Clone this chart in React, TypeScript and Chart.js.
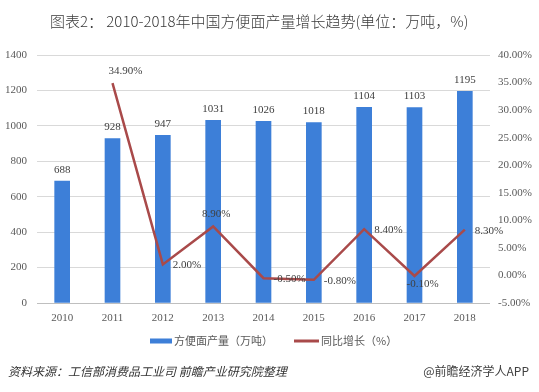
import { useEffect, useRef } from 'react';
import { Chart, registerables } from 'chart.js';

Chart.register(...registerables);

const years = ['2010', '2011', '2012', '2013', '2014', '2015', '2016', '2017', '2018'];
const production = [688, 928, 947, 1031, 1026, 1018, 1104, 1103, 1195];
const growth: (number | null)[] = [null, 34.9, 2.0, 8.9, -0.5, -0.8, 8.4, -0.1, 8.3];
const growthLabelPlacement = ['none', 'aboveRight', 'right', 'above', 'right', 'right', 'right', 'below', 'right'];
const leftTicks = { min: 0, max: 1400, step: 200 };
const rightTicks = { min: -5, max: 40, step: 5 };

const titleText = '图表2： 2010-2018年中国方便面产量增长趋势(单位：万吨，%)';
const barLegend = '方便面产量（万吨）';
const lineLegend = '同比增长（%）';
const sourceText = '资料来源：工信部消费品工业司 前瞻产业研究院整理';
const brandText = '@前瞻经济学人APP';

const CJK = '"Noto Sans CJK SC", "Noto Sans", sans-serif';
const SERIF = '"Liberation Serif", "DejaVu Serif", serif';
const BAR = '#3d7fd8';
const LINE = '#a94a4a';
const TICK = '#595959';

const decorPlugin = {
  id: 'decor',
  afterDatasetsDraw(chart: any) {
    const ctx = chart.ctx;
    ctx.save();
    ctx.font = `11px ${SERIF}`;
    ctx.fillStyle = '#404040';
    const barMeta = chart.getDatasetMeta(0);
    barMeta.data.forEach((el: any, i: number) => {
      ctx.textAlign = 'center';
      ctx.textBaseline = 'bottom';
      ctx.fillText(String(production[i]), el.x, el.y - 6);
    });
    const lineMeta = chart.getDatasetMeta(1);
    lineMeta.data.forEach((el: any, i: number) => {
      const v = growth[i];
      if (v === null || v === undefined) return;
      const txt = v.toFixed(2) + '%';
      const p = growthLabelPlacement[i];
      if (p === 'above') {
        ctx.textAlign = 'center';
        ctx.textBaseline = 'middle';
        ctx.fillText(txt, el.x + 3, el.y - 12);
      } else if (p === 'aboveRight') {
        ctx.textAlign = 'center';
        ctx.textBaseline = 'middle';
        ctx.fillText(txt, el.x + 13, el.y - 12);
      } else if (p === 'below') {
        ctx.textAlign = 'center';
        ctx.textBaseline = 'middle';
        ctx.fillText(txt, el.x + 8, el.y + 8);
      } else if (p === 'right') {
        ctx.textAlign = 'left';
        ctx.textBaseline = 'middle';
        ctx.fillText(txt, el.x + 10, el.y + 1);
      }
    });
    ctx.restore();
  },
  afterDraw(chart: any) {
    const ctx = chart.ctx;
    ctx.save();
    // title
    ctx.font = `300 15px ${CJK}`;
    ctx.fillStyle = '#3a3a3a';
    ctx.textAlign = 'left';
    ctx.textBaseline = 'middle';
    ctx.fillText(titleText, 50, 21);
    // legend
    const ly = 341;
    ctx.fillStyle = BAR;
    ctx.fillRect(150, ly - 2.5, 22, 5);
    ctx.font = `11px ${CJK}`;
    ctx.fillStyle = TICK;
    ctx.fillText(barLegend, 174, ly);
    ctx.strokeStyle = LINE;
    ctx.lineWidth = 3;
    ctx.beginPath();
    ctx.moveTo(294, ly);
    ctx.lineTo(319, ly);
    ctx.stroke();
    ctx.fillStyle = TICK;
    ctx.fillText(lineLegend, 321, ly);
    // footer
    ctx.font = `italic 12px ${CJK}`;
    ctx.fillStyle = '#333333';
    ctx.fillText(sourceText, 8, 371);
    ctx.font = `12px ${CJK}`;
    ctx.textAlign = 'right';
    ctx.fillStyle = '#404040';
    ctx.fillText(brandText, 529, 371);
    ctx.restore();
  },
};

export default function App() {
  const ref = useRef<HTMLCanvasElement>(null);
  useEffect(() => {
    document.body.style.margin = '0';
    const chart = new Chart(ref.current!, {
      type: 'bar',
      data: {
        labels: years,
        datasets: [
          {
            type: 'bar',
            label: barLegend,
            data: production,
            backgroundColor: BAR,
            yAxisID: 'y',
            barThickness: 15,
            order: 2,
          } as any,
          {
            type: 'line',
            label: lineLegend,
            data: growth,
            borderColor: LINE,
            backgroundColor: LINE,
            borderWidth: 2.5,
            pointRadius: 0,
            tension: 0,
            yAxisID: 'y1',
            order: 1,
          } as any,
        ],
      },
      options: {
        responsive: false,
        animation: false,
        devicePixelRatio: 1,
        layout: { padding: { top: 55, bottom: 61, left: 0, right: 0 } },
        plugins: {
          legend: { display: false },
          tooltip: { enabled: false },
          title: { display: false },
        },
        scales: {
          x: {
            grid: { display: false, drawTicks: false },
            border: { display: false },
            ticks: { color: TICK, font: { family: SERIF, size: 11 }, padding: 9 },
            afterFit: (s: any) => { s.height = 28; },
          },
          y: {
            position: 'left',
            min: leftTicks.min,
            max: leftTicks.max,
            ticks: {
              stepSize: leftTicks.step,
              color: TICK,
              font: { family: SERIF, size: 11 },
              padding: 10,
              callback: (v: any) => String(v),
            },
            grid: {
              color: (c: any) => (c.tick && c.tick.value === 0 ? '#bfbfbf' : '#d9d9d9'),
              drawTicks: false,
            },
            border: { display: false },
            afterFit: (s: any) => { s.width = 37; },
          },
          y1: {
            position: 'right',
            min: rightTicks.min,
            max: rightTicks.max,
            ticks: {
              stepSize: rightTicks.step,
              color: TICK,
              font: { family: SERIF, size: 11 },
              padding: 8,
              callback: (v: any) => Number(v).toFixed(2) + '%',
            },
            grid: { display: false, drawTicks: false },
            border: { display: false },
            afterFit: (s: any) => { s.width = 49; },
          },
        },
      } as any,
      plugins: [decorPlugin],
    });
    return () => chart.destroy();
  }, []);
  return (
    <canvas
      ref={ref}
      width={539}
      height={392}
      style={{ display: 'block', width: 539, height: 392 }}
    />
  );
}
